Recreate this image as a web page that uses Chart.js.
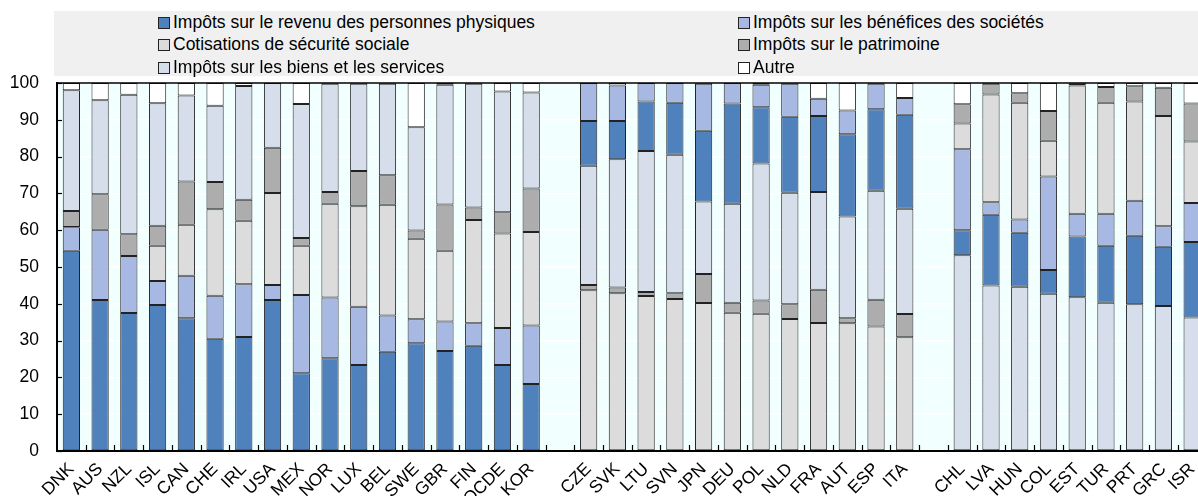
<!DOCTYPE html>
<html>
<head>
<meta charset="utf-8">
<script src="https://cdn.jsdelivr.net/npm/chart.js@4"></script>
<style>
  html, body { margin: 0; padding: 0; background: #fff; overflow: hidden; }
  body { width: 1198px; height: 496px; position: relative; font-family: Arial, "Liberation Sans", sans-serif; }
  #wrap { position: absolute; left: 0; top: 0; width: 1207px; height: 496px; }
  #legend { position: absolute; left: 54px; top: 11px; width: 1144px; height: 65px; background: #f0f0f0; }
  .item { position: absolute; font-size: 17.5px; line-height: 20px; color: #000; white-space: nowrap; }
  .box { display: inline-block; width: 10px; height: 10px; border: 1px solid #222; margin-right: 3px; vertical-align: -1px; }
</style>
</head>
<body>
<div id="wrap"><canvas id="taxChart" width="1207" height="496"></canvas></div>
<div id="legend"></div>
<script>
const groupA = ['DNK', 'AUS', 'NZL', 'ISL', 'CAN', 'CHE', 'IRL', 'USA', 'MEX', 'NOR', 'LUX', 'BEL', 'SWE', 'GBR', 'FIN', 'OCDE', 'KOR'];
const groupB = ['CZE', 'SVK', 'LTU', 'SVN', 'JPN', 'DEU', 'POL', 'NLD', 'FRA', 'AUT', 'ESP', 'ITA'];
const groupC = ['CHL', 'LVA', 'HUN', 'COL', 'EST', 'TUR', 'PRT', 'GRC', 'ISR'];

// shares of total tax revenue, countries in order groupA, groupB, groupC
const pit = [54.4, 41.0, 37.5, 39.7, 36.1, 30.5, 31.0, 41.0, 21.1, 25.2, 23.4, 27.0, 29.3, 27.2, 28.6, 23.4, 18.2,
    12.2, 10.4, 13.5, 14.1, 19.2, 27.2, 15.3, 20.6, 20.6, 22.4, 22.2, 25.6,
    6.8, 19.2, 14.7, 6.5, 16.5, 15.5, 18.6, 16.1, 20.5];
const cit = [6.4, 19.1, 15.5, 6.5, 11.5, 11.7, 14.3, 4.1, 21.3, 16.5, 15.8, 9.8, 6.5, 8.0, 6.1, 10.0, 15.9,
    10.3, 9.6, 5.0, 5.4, 12.8, 5.6, 6.1, 9.0, 4.7, 6.4, 6.9, 4.5,
    22.0, 3.4, 3.6, 25.4, 6.2, 8.7, 9.5, 5.6, 10.6];
const ssc = [0.1, 0, 0, 9.6, 13.9, 23.5, 17.3, 25.0, 13.4, 25.5, 27.3, 30.1, 21.9, 19.2, 28.1, 25.7, 25.4,
    43.7, 42.9, 42.1, 41.3, 40.2, 37.6, 37.3, 35.9, 34.8, 34.7, 33.8, 30.9,
    7.0, 29.3, 31.7, 9.7, 34.8, 30.1, 27.0, 29.9, 16.7];
const property = [4.3, 9.7, 5.9, 5.4, 11.7, 7.4, 5.7, 12.3, 2.1, 3.2, 9.6, 8.0, 2.2, 12.6, 3.4, 5.8, 11.8,
    1.4, 1.5, 1.1, 1.6, 7.9, 2.7, 3.6, 4.0, 9.0, 1.4, 7.3, 6.3,
    5.2, 2.9, 2.6, 8.1, 0.5, 4.3, 4.1, 7.7, 10.3];
const goods = [32.8, 25.5, 37.9, 33.3, 23.4, 20.7, 30.9, 17.6, 36.4, 29.4, 23.7, 24.9, 28.1, 32.5, 33.6, 32.8, 26.1,
    32.4, 34.9, 38.3, 37.6, 19.7, 26.9, 37.2, 30.3, 26.6, 27.6, 29.6, 28.6,
    53.2, 45.0, 44.6, 42.7, 41.8, 40.3, 39.9, 39.4, 36.3];
const other = [2.0, 4.7, 3.2, 5.5, 3.4, 6.2, 0.8, 0, 5.7, 0.2, 0.2, 0.2, 12.0, 0.5, 0.2, 2.3, 2.6,
    0, 0.7, 0, 0, 0.2, 0, 0.5, 0.2, 4.3, 7.5, 0.2, 4.1,
    5.8, 0.2, 2.8, 7.6, 0.2, 1.1, 0.9, 1.3, 5.6];

const seriesNames = ['Impôts sur le revenu des personnes physiques', 'Impôts sur les bénéfices des sociétés',
    'Cotisations de sécurité sociale', 'Impôts sur le patrimoine', 'Impôts sur les biens et les services', 'Autre'];
const seriesValues = [pit, cit, ssc, property, goods, other];
const seriesColors = ['#4f81bd', '#a7b9e3', '#dcdcdc', '#adadad', '#d7deeb', '#ffffff'];

// stacking order (bottom to top) inside each group
const groupOrders = [[0, 1, 2, 3, 4, 5], [2, 3, 4, 0, 1, 5], [4, 0, 1, 2, 3, 5]];
const groups = [groupA, groupB, groupC];

// labels with one empty slot between groups
const labels = [...groupA, '', ...groupB, '', ...groupC];

const datasets = [];
let offset = 0;
groups.forEach((grp, g) => {
    const start = offset;
    groupOrders[g].forEach(s => {
        const data = labels.map(() => null);
        grp.forEach((_, i) => {
            data[start + g + i] = seriesValues[s][start + i];
        });
        datasets.push({
            label: seriesNames[s],
            data: data,
            backgroundColor: seriesColors[s],
            borderColor: '#222',
            borderWidth: 1,
            borderSkipped: false,
            barPercentage: 0.6,
            categoryPercentage: 1
        });
    });
    offset += grp.length;
});

// legend, two columns
const legendEl = document.getElementById('legend');
seriesNames.forEach((name, k) => {
    const col = k % 2, row = Math.floor(k / 2);
    const el = document.createElement('div');
    el.className = 'item';
    el.style.left = (col === 0 ? 104 : 684) + 'px';
    el.style.top = (1 + row * 22.3) + 'px';
    el.innerHTML = '<span class="box" style="background:' + seriesColors[k] + '"></span>' + name;
    legendEl.appendChild(el);
});

const framePlugin = {
    id: 'frame',
    beforeDraw(chart) {
        const {ctx, chartArea: a} = chart;
        ctx.save();
        ctx.fillStyle = '#f2ffff';
        ctx.fillRect(a.left, a.top, a.right - a.left, a.bottom - a.top);
        ctx.restore();
    },
    afterDraw(chart) {
        const {ctx, chartArea: a} = chart;
        const y = chart.scales.y;
        ctx.save();
        ctx.strokeStyle = '#000';
        ctx.lineWidth = 1.5;
        // top line
        ctx.beginPath();
        ctx.moveTo(a.left, a.top);
        ctx.lineTo(a.right, a.top);
        ctx.stroke();
        // inner y ticks
        ctx.lineWidth = 1.2;
        for (let v = 0; v <= 100; v += 10) {
            const py = Math.round(y.getPixelForValue(v)) + 0.5;
            ctx.beginPath();
            ctx.moveTo(a.left, py);
            ctx.lineTo(a.left + 5, py);
            ctx.stroke();
        }
        // inner x ticks at category boundaries
        const step = (a.right - a.left) / labels.length;
        for (let i = 1; i < labels.length; i++) {
            const px = Math.round(a.left + i * step) + 0.5;
            ctx.beginPath();
            ctx.moveTo(px, a.bottom);
            ctx.lineTo(px, a.bottom - 6);
            ctx.stroke();
        }
        ctx.restore();
    }
};

new Chart(document.getElementById('taxChart'), {
    type: 'bar',
    data: {labels: labels, datasets: datasets},
    options: {
        responsive: false,
        animation: false,
        layout: {padding: {top: 83, left: 0, right: 0, bottom: 0}},
        plugins: {legend: {display: false}, tooltip: {enabled: false}},
        scales: {
            x: {
                stacked: true,
                grid: {display: false},
                border: {display: true, color: '#000', width: 2},
                ticks: {
                    autoSkip: false, maxRotation: 45, minRotation: 45, padding: 0,
                    color: '#000', font: {family: 'Arial, "Liberation Sans", sans-serif', size: 17.5}
                },
                afterFit(scale) { scale.height = 45; }
            },
            y: {
                stacked: true,
                min: 0,
                max: 100,
                grid: {color: '#ffffff', lineWidth: 1.5, drawTicks: false},
                border: {display: true, color: '#000', width: 2},
                ticks: {
                    stepSize: 10, padding: 18,
                    color: '#000', font: {family: 'Arial, "Liberation Sans", sans-serif', size: 17.5}
                },
                afterFit(scale) { scale.width = 57; }
            }
        }
    },
    plugins: [framePlugin]
});
</script>
</body>
</html>
